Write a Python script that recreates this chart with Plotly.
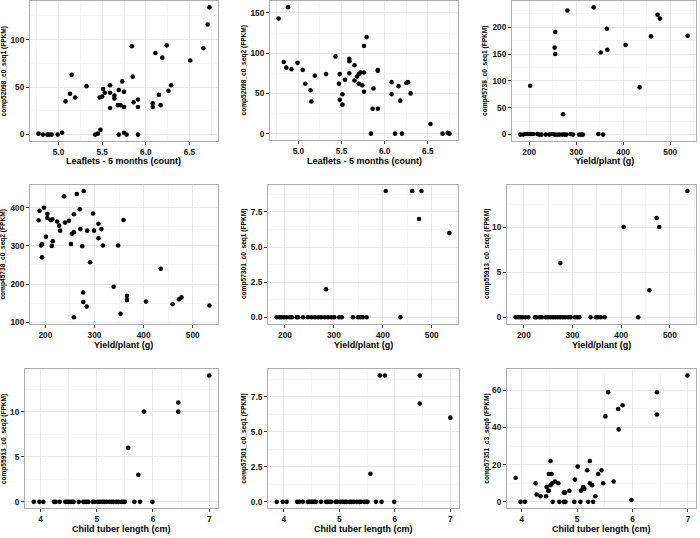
import plotly.graph_objects as go

# ---------------- data ----------------
# Panel 1: Leaflets vs comp52098_c0_seq1
p1_x = [4.77, 4.82, 4.87, 4.89, 4.92, 4.99, 5.04, 5.08, 5.13, 5.15, 5.19, 5.32,
        5.42, 5.45, 5.48, 5.47, 5.50, 5.51, 5.53, 5.59, 5.59, 5.59, 5.64, 5.64,
        5.69, 5.68, 5.69, 5.71, 5.73, 5.75, 5.75, 5.75, 5.78, 5.84, 5.85, 5.86,
        5.91, 5.91, 5.91, 6.08, 6.08, 6.11, 6.15, 6.17, 6.19, 6.24, 6.26, 6.29,
        6.51, 6.66, 6.71, 6.73]
p1_y = [1, 0, 0, 0, 0, 0, 2, 35, 43, 63, 39, 51,
        0, 1, 5, 39, 40, 48, 44, 52, 44, 28, 41, 38,
        47, 31, 0, 31, 56, 45, 29, 2, 0, 93, 61, 34,
        37, 29, 0, 33, 29, 86, 42, 31, 81, 94, 46, 52,
        78, 91, 116, 134]

# Panel 2: Leaflets vs comp52098_c0_seq2
p2_x = [4.77, 4.88, 4.83, 4.86, 4.92, 4.99, 5.05, 5.08, 5.14, 5.15, 5.19, 5.32,
        5.43, 5.47, 5.48, 5.48, 5.51, 5.51, 5.54, 5.59, 5.59, 5.59, 5.65, 5.65,
        5.68, 5.70, 5.70, 5.72, 5.74, 5.76, 5.76, 5.76, 5.79, 5.84, 5.86, 5.87,
        5.92, 5.92, 5.92, 6.08, 6.08, 6.12, 6.16, 6.18, 6.20, 6.25, 6.27, 6.30,
        6.53, 6.67, 6.73, 6.75]
p2_y = [143, 157, 89, 82, 80, 88, 79, 62, 54, 40, 72, 74,
        96, 62, 74, 42, 49, 36, 67, 93, 90, 75, 85, 66,
        71, 74, 62, 76, 60, 76, 52, 109, 120, 0, 31, 56,
        79, 78, 31, 64, 49, 0, 59, 41, 0, 63, 64, 50,
        12, 0, 1, 0]

# Panel 3: Yield vs comp45738_c0_seq1
p3_x = [202, 254, 255, 255, 272, 281, 337, 352, 365, 366, 405, 435, 459, 473, 478, 537,
        181, 187, 192, 197, 202, 208, 217, 221, 226, 235, 243, 249, 254, 259, 264,
        270, 275, 279, 288, 293, 306, 311, 314, 347, 357]
p3_y = [91, 162, 191, 150, 38, 231, 237, 153, 197, 158, 167, 88, 183, 223, 216, 184,
        0, 0, 1, 1, 1, 1, 1, 0, 0, 0, 0, 1, 0, 0, 0,
        0, 0, 0, 1, 0, 0, 0, 0, 1, 0]

# Panel 4: Yield vs comp45738_c0_seq2
p4_x = [188, 186, 191, 193, 193, 197, 201, 204, 204, 211, 214, 213,
        215, 224, 228, 230, 238, 240, 248, 252, 254, 258, 258, 264,
        270, 271, 275, 278, 277, 277, 284, 258, 285, 291, 297, 299,
        308, 308, 314, 317, 339, 348, 353, 359, 366, 366, 405, 435,
        459, 472, 477, 534]
p4_y = [392, 367, 301, 305, 270, 400, 324, 384, 373, 367, 370, 300,
        312, 364, 353, 340, 430, 361, 366, 305, 332, 336, 383, 436,
        396, 344, 299, 444, 178, 153, 141, 113, 340, 257, 385, 340,
        358, 320, 344, 301, 193, 301, 122, 368, 169, 158, 154, 240,
        147, 160, 165, 144]

# Panel 5: Yield vs comp57301_c0_seq1
p5_x = [284, 406, 460, 479, 474, 536,
        183, 189, 193, 198, 203, 210, 214, 224, 227, 237,
        247, 254, 261, 268, 274, 281, 288, 295, 301, 311,
        316, 339, 349, 354, 359, 367, 436]
p5_y = [2, 9, 9, 9, 7, 6,
        0, 0, 0, 0, 0, 0, 0, 0, 0, 0,
        0, 0, 0, 0, 0, 0, 0, 0, 0, 0,
        0, 0, 0, 0, 0, 0, 0]

# Panel 6: Yield vs comp55913_c0_seq2
p6_x = [275, 405, 458, 473, 478, 536,
        183, 188, 193, 197, 203, 209, 223, 226, 233, 237,
        245, 250, 255, 260, 265, 270, 275, 280, 285, 291,
        296, 305, 310, 314, 337, 348, 352, 358, 366, 435]
p6_y = [6, 10, 3, 11, 10, 14,
        0, 0, 0, 0, 0, 0, 0, 0, 0, 0,
        0, 0, 0, 0, 0, 0, 0, 0, 0, 0,
        0, 0, 0, 0, 0, 0, 0, 0, 0, 0]

# Panel 7: Child tuber length vs comp55913_c0_seq2
p7_x = [5.56, 5.74, 5.84, 6.45, 6.45, 7.00,
        3.88, 3.98, 4.05, 4.24, 4.27, 4.34, 4.44, 4.47, 4.50, 4.53,
        4.56, 4.59, 4.68, 4.76, 4.79, 4.82, 4.85, 4.93, 4.96, 5.02,
        5.06, 5.10, 5.13, 5.17, 5.22, 5.26, 5.30, 5.35, 5.39, 5.44,
        5.47, 5.50, 5.67, 5.77, 5.99]
p7_y = [6, 3, 10, 11, 10, 14,
        0, 0, 0, 0, 0, 0, 0, 0, 0, 0,
        0, 0, 0, 0, 0, 0, 0, 0, 0, 0,
        0, 0, 0, 0, 0, 0, 0, 0, 0, 0,
        0, 0, 0, 0, 0]

# Panel 8: Child tuber length vs comp57301_c0_seq1
p8_x = [5.56, 5.73, 5.82, 6.45, 6.45, 7.00,
        3.87, 3.98, 4.05, 4.24, 4.28, 4.34, 4.43, 4.46, 4.49, 4.52,
        4.55, 4.58, 4.67, 4.76, 4.79, 4.82, 4.85, 4.93, 4.96, 5.02,
        5.06, 5.10, 5.13, 5.18, 5.22, 5.26, 5.31, 5.36, 5.39, 5.45,
        5.48, 5.51, 5.66, 5.76, 5.99]
p8_y = [2, 9, 9, 9, 7, 6,
        0, 0, 0, 0, 0, 0, 0, 0, 0, 0,
        0, 0, 0, 0, 0, 0, 0, 0, 0, 0,
        0, 0, 0, 0, 0, 0, 0, 0, 0, 0,
        0, 0, 0, 0, 0]

# Panel 9: Child tuber length vs comp57351_c3_seq6
p9_x = [3.89, 3.98, 4.06, 4.25, 4.27, 4.34, 4.44, 4.45, 4.48, 4.49, 4.49, 4.52,
        4.54, 4.52, 4.55, 4.56, 4.60, 4.66, 4.68, 4.76, 4.76, 4.78, 4.79, 4.86,
        4.95, 4.96, 5.01, 5.06, 5.07, 5.10, 5.11, 5.13, 5.18, 5.20, 5.23, 5.23,
        5.27, 5.29, 5.33, 5.38, 5.44, 5.47, 5.51, 5.56, 5.66, 5.74, 5.75, 5.82,
        5.98, 6.44, 6.44, 6.99]
p9_y = [13, 0, 0, 10, 4, 3, 3, 8, 6, 6, 15, 22,
        15, 9, 10, 0, 11, 10, 0, 5, 0, 5, 0, 6,
        0, 12, 19, 0, 6, 7, 8, 7, 17, 0, 22, 10,
        9, 0, 3, 15, 17, 10, 46, 59, 11, 50, 39, 52,
        1, 47, 59, 68]

x_titles = ["Leaflets - 5 months (count)", "Leaflets - 5 months (count)", "Yield/plant (g)",
            "Yield/plant (g)", "Yield/plant (g)", "Yield/plant (g)",
            "Child tuber length (cm)", "Child tuber length (cm)", "Child tuber length (cm)"]
y_titles = ["comp52098_c0_seq1 (FPKM)", "comp52098_c0_seq2 (FPKM)", "comp45738_c0_seq1 (FPKM)",
            "comp45738_c0_seq2 (FPKM)", "comp57301_c0_seq1 (FPKM)", "comp55913_c0_seq2 (FPKM)",
            "comp55913_c0_seq2 (FPKM)", "comp57301_c0_seq1 (FPKM)", "comp57351_c3_seq6 (FPKM)"]

# tick settings (tick0, dtick, format)
x_ticks = [(5.0, 0.5, ".1f"), (5.0, 0.5, ".1f"), (200, 100, "d"),
           (200, 100, "d"), (200, 100, "d"), (200, 100, "d"),
           (4, 1, "d"), (4, 1, "d"), (4, 1, "d")]
y_ticks = [(0, 50, "d"), (0, 50, "d"), (0, 50, "d"),
           (100, 100, "d"), (0, 2.5, ".1f"), (0, 5, "d"),
           (0, 5, "d"), (0, 2.5, ".1f"), (0, 20, "d")]

# ---------------- layout geometry (pixels) ----------------
W, H = 700, 538
# (left, right, top, bottom) of each plot area
boxes = [(30, 218, 1, 142), (270, 458, 1, 141), (512, 696, 1, 142),
         (30, 218, 186, 326), (268, 458, 186, 326), (507, 696, 186, 326),
         (25, 218, 372, 512), (268, 459, 372, 512), (507, 696, 372, 512)]
ytitle_x = [3.5, 244, 485, 3.5, 244, 487, 3.5, 244, 487]
xtitle_y = [162.5, 162.5, 162.5, 348, 348, 348, 532.5, 532.5, 532.5]

series = [(p1_x, p1_y), (p2_x, p2_y), (p3_x, p3_y), (p4_x, p4_y), (p5_x, p5_y),
          (p6_x, p6_y), (p7_x, p7_y), (p8_x, p8_y), (p9_x, p9_y)]

FONT = "Liberation Sans, Arial, sans-serif"
BORDER = "#ADADAD"
GRID = "#E8E8E8"
MINOR = "#F6F6F6"

fig = go.Figure()
layout = dict(width=W, height=H, margin=dict(l=0, r=0, t=0, b=0),
              paper_bgcolor="white", plot_bgcolor="white", showlegend=False,
              font=dict(family=FONT, color="black"))
annotations = []


def expand(vals):
    lo, hi = min(vals), max(vals)
    pad = (hi - lo) * 0.05
    return [lo - pad, hi + pad]


for i, ((xs, ys), (l, r, t, b)) in enumerate(zip(series, boxes)):
    n = i + 1
    xa = "x" if n == 1 else f"x{n}"
    ya = "y" if n == 1 else f"y{n}"
    fig.add_trace(go.Scatter(x=xs, y=ys, mode="markers", xaxis=xa, yaxis=ya,
                             marker=dict(color="black", size=4.6, line=dict(width=0)),
                             hoverinfo="skip"))
    x0, dx, xf = x_ticks[i]
    y0, dy, yf = y_ticks[i]
    common = dict(showline=True, mirror=True, linecolor=BORDER, linewidth=1,
                  showgrid=True, gridcolor=GRID, gridwidth=1, zeroline=False,
                  ticks="outside", ticklen=3, tickwidth=1, tickcolor="#333333",
                  tickfont=dict(family=FONT, size=8.3, color="#111111", weight="bold"),
                  fixedrange=True)
    layout[f"xaxis{'' if n == 1 else n}"] = dict(
        common, domain=[l / W, r / W], anchor=ya, range=expand(xs),
        tickmode="linear", tick0=x0, dtick=dx, tickformat=xf,
        minor=dict(tick0=x0 - dx / 2, dtick=dx / 2, showgrid=True, gridcolor=MINOR, ticks=""))
    layout[f"yaxis{'' if n == 1 else n}"] = dict(
        common, domain=[1 - b / H, 1 - t / H], anchor=xa, range=expand(ys),
        tickmode="linear", tick0=y0, dtick=dy, tickformat=yf,
        minor=dict(tick0=y0 - dy / 2, dtick=dy / 2, showgrid=True, gridcolor=MINOR, ticks=""))
    annotations.append(dict(text=x_titles[i], xref="paper", yref="paper",
                            x=(l + r) / 2 / W, y=1 - xtitle_y[i] / H,
                            xanchor="center", yanchor="middle", showarrow=False,
                            font=dict(family=FONT, size=9, color="black", weight="bold")))
    annotations.append(dict(text=y_titles[i], xref="paper", yref="paper",
                            x=ytitle_x[i] / W, y=1 - (t + b) / 2 / H, textangle=-90,
                            xanchor="center", yanchor="middle", showarrow=False,
                            font=dict(family=FONT, size=6.6, color="black", weight="bold")))

layout["annotations"] = annotations
fig.update_layout(**layout)
fig.write_html("out.html", config={"displayModeBar": False, "staticPlot": True},
               post_script="document.body.style.margin='0';document.body.style.overflow='hidden';")
